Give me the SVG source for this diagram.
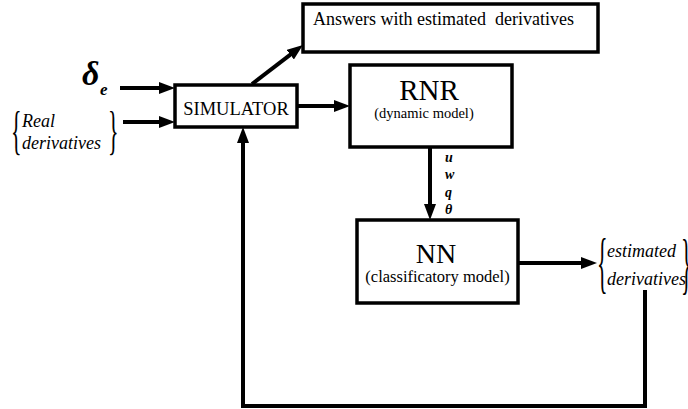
<svg xmlns="http://www.w3.org/2000/svg" width="688" height="409" viewBox="0 0 688 409" font-family="'Liberation Serif', 'DejaVu Serif', serif">
<defs>
<marker id="ah" markerUnits="userSpaceOnUse" viewBox="0 0 16 12" markerWidth="16" markerHeight="12" refX="8" refY="6" orient="auto">
<path d="M0,0 L16,6 L0,12 z" fill="#000"/>
</marker>
</defs>
<style>
.box{fill:#fff;stroke:#000;stroke-width:3.5}
.ln{fill:none;stroke:#000;stroke-width:4}
text{font-family:'Liberation Serif','DejaVu Serif',serif;fill:#000}
.c{text-anchor:middle}
.it{font-style:italic}
.bi{font-style:italic;font-weight:bold}
</style>
<rect width="688" height="409" fill="#fff"/>
<g id="connectors">
<line class="ln" x1="120" y1="88" x2="167" y2="88" marker-end="url(#ah)"/>
<line class="ln" x1="123" y1="122" x2="167" y2="122" marker-end="url(#ah)"/>
<line class="ln" x1="297" y1="106" x2="342" y2="106" marker-end="url(#ah)"/>
<line class="ln" x1="252" y1="84" x2="296.6" y2="49.9" marker-end="url(#ah)"/>
<line class="ln" x1="430" y1="147" x2="430" y2="212" marker-end="url(#ah)"/>
<line class="ln" x1="518" y1="263" x2="589" y2="263" marker-end="url(#ah)"/>
<path class="ln" d="M645,290 V406 H243 V135" marker-end="url(#ah)"/>
</g>
<g id="input-delta">
<text class="bi" x="82" y="85" font-size="34">δ</text>
<text class="bi" x="100" y="95" font-size="17">e</text>
</g>
<g id="real-derivatives">
<text font-size="22" transform="translate(11,148) scale(1,2.4)">{</text>
<text class="it" x="22" y="127" font-size="18">Real</text>
<text class="it" x="22" y="149" font-size="18">derivatives</text>
<text font-size="22" transform="translate(108,148) scale(1,2.4)">}</text>
</g>
<g id="simulator">
<rect class="box" x="175" y="85" width="122" height="42"/>
<text class="c" x="236" y="115" font-size="18.5">SIMULATOR</text>
</g>
<g id="answers">
<rect class="box" x="303" y="4" width="295" height="48"/>
<text x="313" y="25" font-size="18" style="white-space:pre">Answers with estimated  derivatives</text>
</g>
<g id="rnr">
<rect class="box" x="350" y="65" width="162" height="82"/>
<text class="c" x="429" y="100" font-size="29">RNR</text>
<text class="c" x="424" y="118" font-size="14.5">(dynamic model)</text>
</g>
<g id="state-labels">
<text class="bi" x="445" y="162" font-size="14">u</text>
<text class="bi" x="445" y="179" font-size="14">w</text>
<text class="bi" x="445" y="197" font-size="14">q</text>
<text class="bi" x="445" y="214" font-size="14">θ</text>
</g>
<g id="nn">
<rect class="box" x="357" y="220" width="161" height="83"/>
<text class="c" x="436" y="263" font-size="28">NN</text>
<text class="c" x="437.5" y="282" font-size="16.5">(classificatory model)</text>
</g>
<g id="estimated-derivatives">
<text font-size="22" transform="translate(597,284.5) scale(1,3.1)">{</text>
<text class="it" x="607" y="257" font-size="18">estimated</text>
<text class="it" x="607" y="285" font-size="18">derivatives</text>
<text font-size="22" transform="translate(681,286) scale(1,3.1)">}</text>
</g>
</svg>
